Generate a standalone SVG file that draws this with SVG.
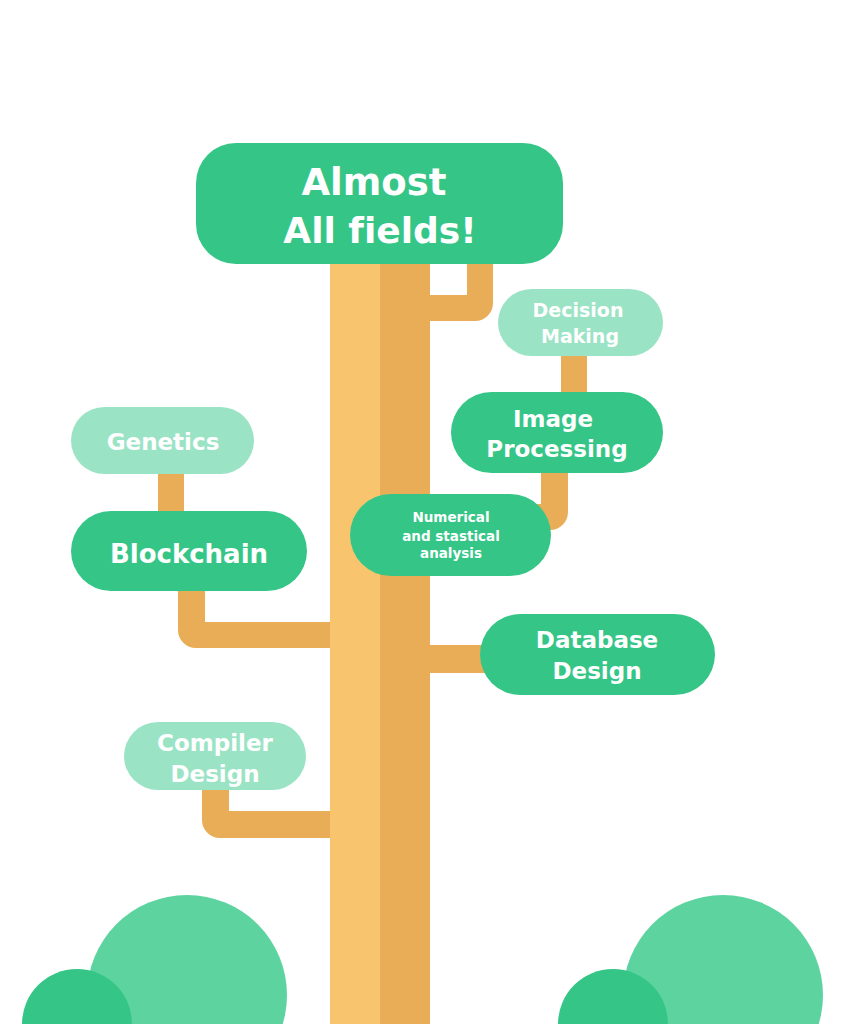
<svg xmlns="http://www.w3.org/2000/svg" width="845" height="1024" viewBox="0 0 845 1024">
<style>
.dark{fill:#35c687}
.light{fill:#9be3c5}
.br{fill:#e9ad58}
text{font-family:"DejaVu Sans","Open Sans",sans-serif;font-weight:700;fill:#ffffff;text-anchor:middle;font-variant-ligatures:none}
</style>
<rect width="845" height="1024" fill="#ffffff"/>
<g id="trunk">
<rect x="330" y="250" width="50" height="774" fill="#f8c56e"/>
<rect x="380" y="250" width="50" height="774" fill="#e9ad58"/>
</g>
<g id="connectors" class="br">
<path d="M467 255H493V303A18 18 0 0 1 475 321H425V295H467Z"/>
<rect x="561" y="350" width="26" height="48"/>
<path d="M541 468H568V512A18 18 0 0 1 550 530H500V504H541Z"/>
<rect x="158" y="468" width="26" height="48"/>
<path d="M178 585H205V622H330V648H196A18 18 0 0 1 178 630Z"/>
<rect x="425" y="645" width="60" height="28"/>
<path d="M202 785H229V811H330V838H220A18 18 0 0 1 202 820Z"/>
</g>
<g id="bushes">
<circle cx="187" cy="995" r="100" fill="#5dd39f"/>
<circle cx="77" cy="1024" r="55" fill="#35c687"/>
<circle cx="723" cy="995" r="100" fill="#5dd39f"/>
<circle cx="613" cy="1024" r="55" fill="#35c687"/>
</g>
<g id="node-root">
<rect class="dark" x="196" y="143" width="367" height="121" rx="40"/>
<text x="374" y="195" font-size="37">Almost</text>
<text x="380" y="243" font-size="36">All fields!</text>
</g>
<g id="node-decision">
<rect class="light" x="498" y="289" width="165" height="67" rx="33.5"/>
<text x="578" y="317" font-size="19">Decision</text>
<text x="580" y="343" font-size="19">Making</text>
</g>
<g id="node-image">
<rect class="dark" x="451" y="392" width="212" height="81" rx="40.5"/>
<text x="553" y="427" font-size="23">Image</text>
<text x="557" y="457" font-size="23">Processing</text>
</g>
<g id="node-numerical">
<rect class="dark" x="350" y="494" width="201" height="82" rx="41"/>
<text x="451" y="522" font-size="13.5">Numerical</text>
<text x="451" y="541" font-size="13.5">and stastical</text>
<text x="451" y="558" font-size="13.5">analysis</text>
</g>
<g id="node-genetics">
<rect class="light" x="71" y="407" width="183" height="67" rx="33.5"/>
<text x="163" y="450" font-size="23">Genetics</text>
</g>
<g id="node-blockchain">
<rect class="dark" x="71" y="511" width="236" height="80" rx="40"/>
<text x="189" y="563" font-size="26">Blockchain</text>
</g>
<g id="node-database">
<rect class="dark" x="480" y="614" width="235" height="81" rx="40.5"/>
<text x="597" y="648" font-size="23">Database</text>
<text x="597" y="679" font-size="23">Design</text>
</g>
<g id="node-compiler">
<rect class="light" x="124" y="722" width="182" height="68" rx="34"/>
<text x="215" y="751" font-size="23">Compiler</text>
<text x="215" y="782" font-size="23">Design</text>
</g>
</svg>
